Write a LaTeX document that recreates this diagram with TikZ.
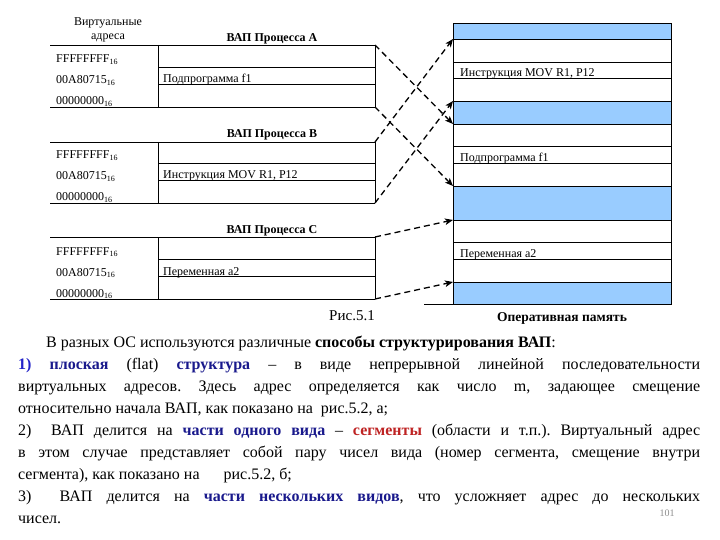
\documentclass[tikz,border=0pt]{standalone}
\usepackage{fontspec}
\setmainfont{Liberation Serif}
\usetikzlibrary{arrows.meta}
\frenchspacing
\definecolor{memblue}{RGB}{153,204,255}
\definecolor{txtblue}{RGB}{35,35,200}
\definecolor{navyblue}{RGB}{25,25,140}
\definecolor{segred}{RGB}{190,35,35}
\definecolor{pagegray}{RGB}{140,140,140}
\tikzset{
  tbl/.style={line width=0.8pt},
  lbl/.style={font=\fontsize{12}{14}\selectfont, anchor=base west, inner sep=0pt},
  hdr/.style={font=\fontsize{12}{14}\selectfont\bfseries, inner sep=0pt},
  maparrow/.style={line width=1.3pt, dash pattern=on 6pt off 4pt, -{Stealth[length=8pt,width=6.5pt,inset=2pt]}},
  body/.style={font=\fontsize{16}{19}\selectfont, anchor=base west, inner sep=0pt},
}
\begin{document}
\frenchspacing
\begin{tikzpicture}[x=1pt,y=-1pt]
\useasboundingbox (0,0) rectangle (720,540);

% header
\node[font=\fontsize{12}{13.5}\selectfont, align=center, inner sep=0pt] (va) at (108,30) {Виртуальные\\адреса};

% ---- Process A ----
\draw[tbl] (50,45) -- (375,45) (50,107) -- (375,107) (158,45) -- (158,107) (375,45) -- (375,107) (158,67) -- (375,67) (158,84) -- (375,84);
\node[hdr] (hA) at (272,39) {ВАП Процесса А};
\node[lbl] (fA) at (56,63) {FFFFFFFF\textsubscript{16}};
\node[lbl] (mA) at (56,84) {00A80715\textsubscript{16}};
\node[lbl] (zA) at (56,105) {00000000\textsubscript{16}};
\node[lbl] (pA) at (163,83) {Подпрограмма f1};
\coordinate (Atop) at (375,45);
\coordinate (Abot) at (375,107);

% ---- Process B ----
\draw[tbl] (50,142) -- (375,142) (50,203) -- (375,203) (158,142) -- (158,203) (375,142) -- (375,203) (158,163) -- (375,163) (158,180) -- (375,180);
\node[hdr] (hB) at (272,135) {ВАП Процесса В};
\node[lbl] (fB) at (56,159) {FFFFFFFF\textsubscript{16}};
\node[lbl] (mB) at (56,180) {00A80715\textsubscript{16}};
\node[lbl] (zB) at (56,201) {00000000\textsubscript{16}};
\node[lbl] (pB) at (163,179) {Инструкция MOV R1, P12};
\coordinate (Btop) at (375,142);
\coordinate (Bbot) at (375,203);

% ---- Process C ----
\draw[tbl] (50,237) -- (375,237) (50,299) -- (375,299) (158,237) -- (158,299) (375,237) -- (375,299) (158,259) -- (375,259) (158,276) -- (375,276);
\node[hdr] (hC) at (272,231) {ВАП Процесса С};
\node[lbl] (fC) at (56,255) {FFFFFFFF\textsubscript{16}};
\node[lbl] (mC) at (56,276) {00A80715\textsubscript{16}};
\node[lbl] (zC) at (56,297) {00000000\textsubscript{16}};
\node[lbl] (pC) at (163,275) {Переменная а2};
\coordinate (Ctop) at (375,237);
\coordinate (Cbot) at (375,299);

% ---- Memory ----
\fill[memblue] (453,23) rectangle (671,39);
\fill[memblue] (453,101) rectangle (671,124);
\fill[memblue] (453,186) rectangle (671,220);
\fill[memblue] (453,282) rectangle (671,304);
\draw[tbl] (453,23) rectangle (671,304);
\foreach \yy in {39,62,78,101,124,146,163,186,220,242,259,282}
  \draw[tbl] (453,\yy) -- (671,\yy);
\draw[tbl] (424,304) -- (671,304);
\node[lbl] (m1) at (460,77) {Инструкция MOV R1, P12};
\node[lbl] (m2) at (460,162) {Подпрограмма f1};
\node[lbl] (m3) at (460,258) {Переменная а2};
\coordinate (M39) at (453,39);
\coordinate (M101) at (453,101);
\coordinate (M124) at (453,124);
\coordinate (M186) at (453,186);
\coordinate (M220) at (453,220);
\coordinate (M282) at (453,282);

% ---- mapping arrows ----
\draw[maparrow] (Atop) -- (M124);
\draw[maparrow] (Abot) -- (M186);
\draw[maparrow] (Btop) -- (M39);
\draw[maparrow] (Bbot) -- (M101);
\draw[maparrow] (Ctop) -- (M220);
\draw[maparrow] (Cbot) -- (M282);

% captions
\node[font=\fontsize{15}{17}\selectfont, inner sep=0pt] (fig) at (352,316) {Рис.5.1};
\node[font=\fontsize{13.5}{15}\selectfont\bfseries, inner sep=0pt] (ram) at (562,318) {Оперативная память};

% ---- body text ----
\node[body] (t1) at (46,347) {В разных ОС используются различные \textbf{способы структурирования ВАП}:};
\node[body] (t2) at (18,369) {\makebox[682pt][s]{\textcolor{txtblue}{\textbf{1)}} \textcolor{navyblue}{\textbf{плоская}} (flat) \textcolor{navyblue}{\textbf{структура}} – в виде непрерывной линейной последовательности}};
\node[body] (t3) at (18,391) {\makebox[682pt][s]{виртуальных адресов. Здесь адрес определяется как число m, задающее смещение}};
\node[body] (t4) at (18,413) {относительно начала ВАП, как показано на\ \ рис.5.2, а;};
\node[body] (t5) at (18,435) {\makebox[682pt][s]{2)\ \ ВАП делится на \textcolor{navyblue}{\textbf{части одного вида}} – \textcolor{segred}{\textbf{сегменты}} (области и т.п.). Виртуальный адрес}};
\node[body] (t6) at (18,457) {\makebox[682pt][s]{в этом случае представляет собой пару чисел вида (номер сегмента, смещение внутри}};
\node[body] (t7) at (18,479) {сегмента), как показано на\hspace{24pt}рис.5.2, б;};
\node[body] (t8) at (18,501) {\makebox[682pt][s]{3)\ \ ВАП делится на \textcolor{navyblue}{\textbf{части нескольких видов}}, что усложняет адрес до нескольких}};
\node[body] (t9) at (18,523) {чисел.};
\node[font=\fontsize{10}{12}\selectfont, text=pagegray, inner sep=0pt] (pg) at (667,513) {101};
\end{tikzpicture}
\end{document}
